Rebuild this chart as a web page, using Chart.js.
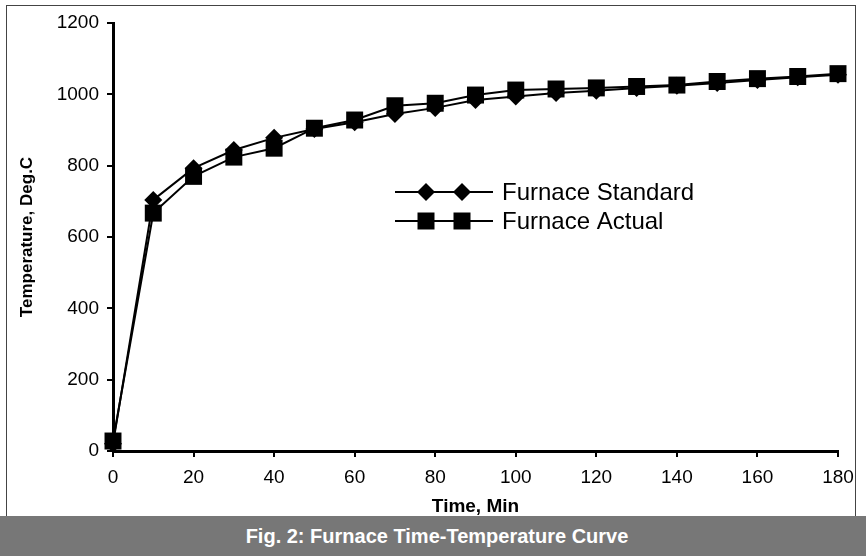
<!DOCTYPE html>
<html lang="en">
<head>
  <meta charset="UTF-8">
  <title>Furnace Time-Temperature Curve</title>
  <script src="https://cdn.jsdelivr.net/npm/chart.js"></script>
  <style>
    body { margin: 0; background: #fff; font-family: 'Liberation Sans', Arial, sans-serif; }
    #page { position: relative; width: 866px; height: 556px; overflow: hidden; }
    #frame { position: absolute; left: 6px; top: 5px; width: 848px; height: 515px; border: 1px solid #444; border-bottom: none; }
    #plot { position: absolute; left: 0; top: 0; width: 866px; height: 516px; }
    #caption {
      position: absolute; left: 0; top: 516px; width: 866px; height: 40px;
      background: #777; color: #fff; font-weight: bold; font-size: 20px;
      line-height: 40px; text-align: center; text-indent: 8px;
    }
  </style>
</head>
<body>
  <div id="page">
    <div id="frame"></div>
    <div id="plot"><canvas id="chart"></canvas></div>
    <div id="caption">Fig. 2: Furnace Time-Temperature Curve</div>
  </div>

  <script>
    // readings (min / deg C)
    const times = [0, 10, 20, 30, 40, 50, 60, 70, 80, 90, 100, 110, 120, 130, 140, 150, 160, 170, 180];
    const furnaceStandard = [20, 704, 793, 844, 878, 903, 922, 945, 962, 984, 994, 1004, 1010, 1018, 1024, 1032, 1040, 1048, 1055];
    const furnaceActual = [28, 667, 770, 824, 849, 905, 928, 968, 975, 998, 1012, 1015, 1018, 1022, 1026, 1036, 1044, 1050, 1058];
    const seriesNames = ['Furnace Standard', 'Furnace Actual'];

    const toPoints = (values) => times.map((t, i) => ({ x: t, y: values[i] }));

    // legend drawn inside the plot, like the original
    const insideLegend = {
      id: 'insideLegend',
      afterDraw(chart) {
        const ctx = chart.ctx;
        const rows = [
          { label: seriesNames[0], style: 'diamond', y: 192 },
          { label: seriesNames[1], style: 'square', y: 221 }
        ];
        ctx.save();
        rows.forEach(row => {
          ctx.strokeStyle = '#000';
          ctx.lineWidth = 2;
          ctx.beginPath();
          ctx.moveTo(395, row.y);
          ctx.lineTo(493, row.y);
          ctx.stroke();
          ctx.fillStyle = '#000';
          [426, 462].forEach(x => {
            ctx.beginPath();
            if (row.style === 'diamond') {
              ctx.moveTo(x, row.y - 9);
              ctx.lineTo(x + 9, row.y);
              ctx.lineTo(x, row.y + 9);
              ctx.lineTo(x - 9, row.y);
              ctx.closePath();
            } else {
              ctx.rect(x - 8.5, row.y - 8.5, 17, 17);
            }
            ctx.fill();
          });
          ctx.font = '24px "Liberation Sans", Arial, sans-serif';
          ctx.textBaseline = 'middle';
          ctx.textAlign = 'left';
          ctx.fillText(row.label, 502, row.y + 1);
        });
        ctx.restore();
      }
    };

    const tickFont = { family: "'Liberation Sans', Arial, sans-serif", size: 19 };
    const plainNumber = (value) => String(value);

    new Chart(document.getElementById('chart'), {
      type: 'line',
      data: {
        datasets: [
          {
            label: seriesNames[0],
            data: toPoints(furnaceStandard),
            borderColor: '#000',
            borderWidth: 2,
            backgroundColor: '#000',
            pointStyle: 'rectRot',
            pointRadius: 9,
            pointBorderWidth: 0,
            order: 1,
            clip: false
          },
          {
            label: seriesNames[1],
            data: toPoints(furnaceActual),
            borderColor: '#000',
            borderWidth: 2,
            backgroundColor: '#000',
            pointStyle: 'rect',
            pointRadius: 12,
            pointBorderWidth: 0,
            order: 0,
            clip: false
          }
        ]
      },
      options: {
        responsive: true,
        maintainAspectRatio: false,
        animation: false,
        layout: { padding: { left: 0, right: 28, top: 23, bottom: 0 } },
        plugins: {
          legend: { display: false },
          tooltip: { enabled: false }
        },
        scales: {
          x: {
            type: 'linear',
            min: 0,
            max: 180,
            ticks: { stepSize: 20, color: '#000', font: tickFont, padding: 9, maxRotation: 0, callback: plainNumber },
            grid: { drawOnChartArea: false, color: '#000', lineWidth: 2, tickLength: 6 },
            border: { color: '#000', width: 3 },
            title: {
              display: true,
              text: 'Time, Min',
              color: '#000',
              font: { family: "'Liberation Sans', Arial, sans-serif", size: 19, weight: 'bold', lineHeight: 1 },
              padding: 0
            },
            afterFit: (scale) => { scale.height = 65; }
          },
          y: {
            min: 0,
            max: 1200,
            ticks: { stepSize: 200, color: '#000', font: tickFont, padding: 8, callback: plainNumber },
            grid: { drawOnChartArea: false, color: '#000', lineWidth: 2, tickLength: 6 },
            border: { color: '#000', width: 3 },
            title: {
              display: true,
              text: 'Temperature, Deg.C',
              color: '#000',
              font: { family: "'Liberation Sans', Arial, sans-serif", size: 17, weight: 'bold', lineHeight: 1 },
              padding: { top: 19, bottom: 0 }
            },
            afterFit: (scale) => { scale.width = 113; }
          }
        }
      },
      plugins: [insideLegend]
    });
  </script>
</body>
</html>
